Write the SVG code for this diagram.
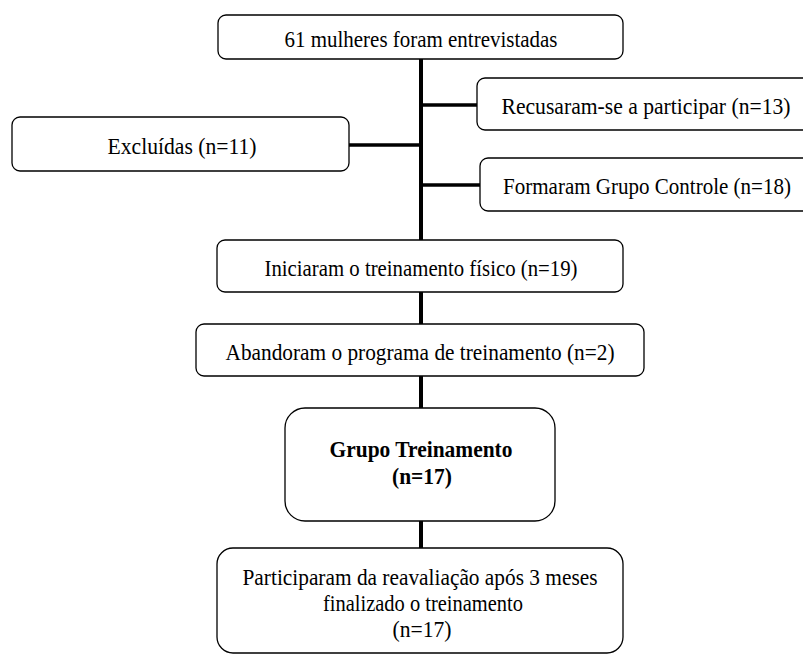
<svg xmlns="http://www.w3.org/2000/svg" width="803" height="654" viewBox="0 0 803 654">
  <style>
    .box { fill: #ffffff; stroke: #000000; stroke-width: 1.3; }
    .lbl { font-family: "Liberation Serif", "Times New Roman", serif; font-size: 23px; fill: #000000; text-anchor: middle; }
    .bold { font-weight: bold; }
    .wire { stroke: #000000; stroke-width: 4; fill: none; }
    .branch { stroke: #000000; stroke-width: 3.5; fill: none; }
  </style>
  <rect width="803" height="654" fill="#ffffff"/>

  <!-- connectors: main trunk and side branches -->
  <g id="connectors">
    <line class="wire" x1="421" y1="59" x2="421" y2="240"/>
    <line class="branch" x1="421" y1="105" x2="477" y2="105"/>
    <line class="branch" x1="349" y1="145" x2="421" y2="145"/>
    <line class="branch" x1="421" y1="185" x2="480" y2="185"/>
    <line class="wire" x1="421" y1="292" x2="421" y2="324"/>
    <line class="wire" x1="421" y1="376" x2="421" y2="408"/>
    <line class="wire" x1="421" y1="521" x2="421" y2="548"/>
  </g>

  <g id="entrevistadas">
    <rect class="box" x="218" y="15" width="405" height="44" rx="8"/>
    <text class="lbl" x="421" y="47" textLength="273" lengthAdjust="spacingAndGlyphs">61 mulheres foram entrevistadas</text>
  </g>

  <!-- the two right-hand boxes run out past the right margin, so no right side is drawn -->
  <g id="recusaram">
    <path class="box" d="M803,78 H485 A8,8 0 0 0 477,86 V122 A8,8 0 0 0 485,130 H803"/>
    <text class="lbl" x="646" y="114" textLength="289" lengthAdjust="spacingAndGlyphs">Recusaram-se a participar (n=13)</text>
  </g>

  <g id="excluidas">
    <rect class="box" x="12" y="117" width="337" height="54" rx="8"/>
    <text class="lbl" x="182" y="154" textLength="149" lengthAdjust="spacingAndGlyphs">Excluídas (n=11)</text>
  </g>

  <g id="controle">
    <path class="box" d="M803,158 H488 A8,8 0 0 0 480,166 V203 A8,8 0 0 0 488,211 H803"/>
    <text class="lbl" x="647" y="194" textLength="288" lengthAdjust="spacingAndGlyphs">Formaram Grupo Controle (n=18)</text>
  </g>

  <g id="iniciaram">
    <rect class="box" x="217" y="240" width="406" height="52" rx="8"/>
    <text class="lbl" x="421" y="276" textLength="313" lengthAdjust="spacingAndGlyphs">Iniciaram o treinamento físico (n=19)</text>
  </g>

  <g id="abandonaram">
    <rect class="box" x="196" y="324" width="448" height="52" rx="8"/>
    <text class="lbl" x="420" y="360" textLength="389" lengthAdjust="spacingAndGlyphs">Abandoram o programa de treinamento (n=2)</text>
  </g>

  <g id="grupo-treinamento">
    <rect class="box" x="285" y="408" width="270" height="113" rx="20"/>
    <text class="lbl bold" x="421" y="457" textLength="183" lengthAdjust="spacingAndGlyphs">Grupo Treinamento</text>
    <text class="lbl bold" x="422" y="484" textLength="60" lengthAdjust="spacingAndGlyphs">(n=17)</text>
  </g>

  <g id="reavaliacao">
    <rect class="box" x="217" y="548" width="406" height="105" rx="16"/>
    <text class="lbl" x="420" y="585" textLength="355" lengthAdjust="spacingAndGlyphs">Participaram da reavaliação após 3 meses</text>
    <text class="lbl" x="423" y="611" textLength="200" lengthAdjust="spacingAndGlyphs">finalizado o treinamento</text>
    <text class="lbl" x="422" y="637" textLength="59" lengthAdjust="spacingAndGlyphs">(n=17)</text>
  </g>
</svg>
